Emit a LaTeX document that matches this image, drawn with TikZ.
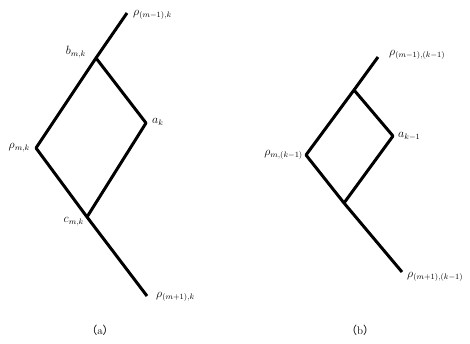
\documentclass[tikz,border=0pt]{standalone}
\usepackage{fontspec}
\newfontfamily\cjk{Noto Sans CJK SC}
\begin{document}
\begin{tikzpicture}[x=1pt,y=-1pt,
  edge/.style={line width=3pt, line join=round, line cap=butt},
  lab/.style={inner sep=0pt, font=\fontsize{11.5}{13}\selectfont},
  captxt/.style={inner sep=0pt, font=\fontsize{11}{13}\selectfont}]
\useasboundingbox (0,0) rectangle (470,343);
% panel (a)
\coordinate (at) at (127,13);
\coordinate (ab) at (96,58);
\coordinate (aa) at (146,123);
\coordinate (ap) at (36,148);
\coordinate (ac) at (87,217);
\coordinate (abot) at (147,296);
\draw[edge] (at) -- (ab) -- (ap) -- (ac) -- (abot);
\draw[edge] (ab) -- (aa) -- (ac);
\node[lab, anchor=west] (lat) at (133,15) {$\rho_{(m-1),k}$};
\node[lab, anchor=east] (lab) at (86,52) {$b_{m,k}$};
\node[lab, anchor=west] (laa) at (152,122) {$a_k$};
\node[lab, anchor=east] (lap) at (30,148) {$\rho_{m,k}$};
\node[lab, anchor=east] (lac) at (84,222) {$c_{m,k}$};
\node[lab, anchor=west] (labot) at (156,297) {$\rho_{(m+1),k}$};
\node[captxt] (capa) at (100,330) {{\cjk（}a{\cjk）}};
% panel (b)
\coordinate (bt) at (378,57);
\coordinate (bb) at (354,90);
\coordinate (ba) at (393,136);
\coordinate (bp) at (306,155);
\coordinate (bc) at (344,203);
\coordinate (bbot) at (402,272);
\draw[edge] (bt) -- (bb) -- (bp) -- (bc) -- (bbot);
\draw[edge] (bb) -- (ba) -- (bc);
\node[lab, anchor=west] (lbt) at (389,55) {$\rho_{(m-1),(k-1)}$};
\node[lab, anchor=west] (lba) at (398,136) {$a_{k-1}$};
\node[lab, anchor=east] (lbp) at (303,155) {$\rho_{m,(k-1)}$};
\node[lab, anchor=west] (lbbot) at (407,277) {$\rho_{(m+1),(k-1)}$};
\node[captxt] (capb) at (360,330) {{\cjk（}b{\cjk）}};
\end{tikzpicture}
\end{document}
